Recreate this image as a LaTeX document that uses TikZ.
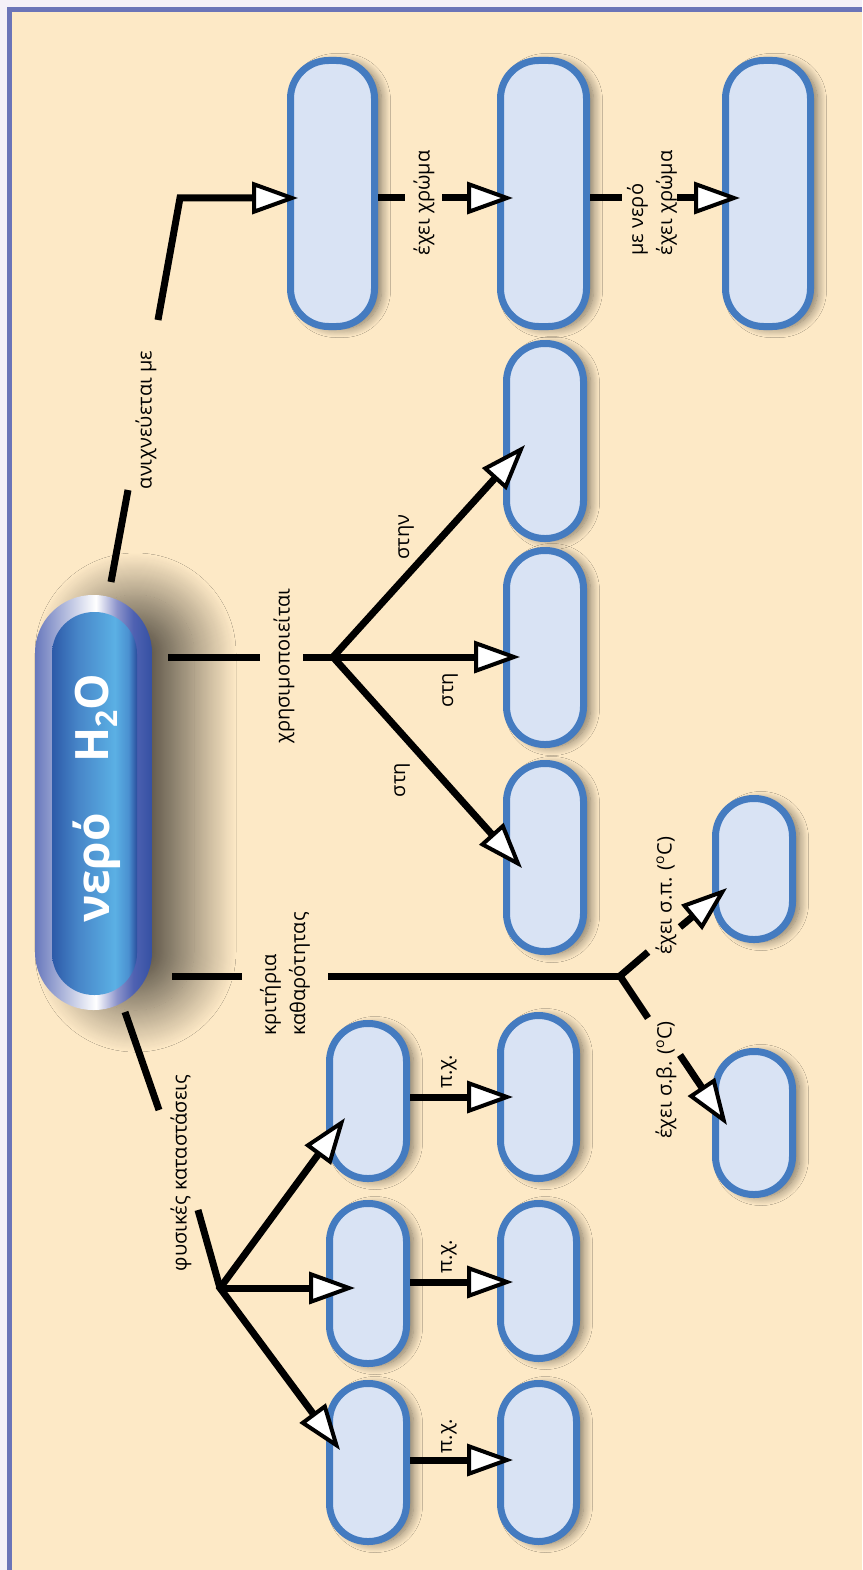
\documentclass[tikz,border=0pt]{standalone}
\usepackage{fontspec}
\setmainfont{Open Sans}
\usetikzlibrary{arrows.meta,shadows.blur,calc}
\definecolor{bg}{HTML}{FDE9C6}
\definecolor{outerbg}{HTML}{F4F0F8}
\definecolor{framec}{HTML}{6B74B8}
\definecolor{boxfill}{HTML}{D9E3F4}
\definecolor{boxline}{HTML}{447BC0}
\definecolor{ringA}{HTML}{6878BC}
\definecolor{ringB}{HTML}{8C93CB}
\definecolor{ringC}{HTML}{4F62B2}
\definecolor{ringD}{HTML}{3550A3}
\definecolor{inA}{HTML}{2D5AA8}
\definecolor{inB}{HTML}{4785C8}
\definecolor{inC}{HTML}{5BB0E4}
\definecolor{inD}{HTML}{4A90D0}
\definecolor{inE}{HTML}{2A4D9D}
\pgfdeclarehorizontalshading{ringshade}{100bp}{color(0bp)=(ringA); color(25bp)=(ringA); color(51bp)=(white); color(60bp)=(ringB); color(67bp)=(ringC); color(75bp)=(ringD); color(100bp)=(ringD)}
\pgfdeclarehorizontalshading{innershade}{100bp}{color(0bp)=(inA); color(25bp)=(inA); color(40bp)=(inB); color(62bp)=(inC); color(70bp)=(inD); color(75bp)=(inE); color(100bp)=(inE)}
\tikzset{
  wtri/.tip={Triangle[length=46pt,width=32pt,line width=4pt,fill=white]},
  pill/.style={draw=boxline, fill=boxfill, line width=7pt, rounded corners=38pt, inner sep=0pt,
    blur shadow={shadow xshift=7pt, shadow yshift=-2pt, shadow blur radius=9pt, shadow blur steps=12, shadow opacity=50}},
  conn/.style={line width=7pt, black},
  arr/.style={conn, -wtri},
  arrboth/.style={conn, wtri-wtri},
  lab/.style={rotate=90, font=\fontsize{20}{29}\selectfont, inner sep=0pt},
  big/.style={rotate=90, text=white, font=\fontsize{46}{46}\selectfont\bfseries, inner sep=0pt}
}
\begin{document}
\begin{tikzpicture}[x=1pt,y=-1pt]
\useasboundingbox (0,0) rectangle (862,1570);
\fill[outerbg] (0,0) rectangle (862,1570);
\fill[bg] (12,12) rectangle (862,1570);
\draw[framec, line width=5pt] (9.5,1570) -- (9.5,9.5) -- (862,9.5);

% main pill
\node[rounded corners=58pt, minimum width=117pt, minimum height=415pt, inner sep=0pt, shading=ringshade,
  blur shadow={shadow xshift=42pt, shadow yshift=0pt, shadow blur radius=42pt, shadow blur steps=40, shadow opacity=60}] (water) at (93.5,802.5) {};
\node[rounded corners=42pt, minimum width=85pt, minimum height=383pt, inner sep=0pt, shading=innershade] (waterin) at (94.5,803.5) {};
\node[big] (tnero) at (97,868) {νερό};
\node[big] (th2o) at (96,718) {H\raisebox{-0.35ex}{\fontsize{30}{30}\selectfont 2}O};

% boxes
\node[pill, minimum width=84pt, minimum height=266pt] (a1) at (332.5,193.5) {};
\node[pill, minimum width=86pt, minimum height=266pt] (a2) at (543.5,193.5) {};
\node[pill, minimum width=85pt, minimum height=266pt] (a3) at (768,193.5) {};
\node[pill, minimum width=77pt, minimum height=195pt] (m1) at (545,441) {};
\node[pill, minimum width=77pt, minimum height=194pt] (m2) at (545,647.5) {};
\node[pill, minimum width=77pt, minimum height=188pt] (m3) at (545,857.5) {};
\node[pill, minimum width=77pt, minimum height=141pt] (s1) at (754,869) {};
\node[pill, minimum width=77pt, minimum height=143pt] (s2) at (754,1123) {};
\node[pill, minimum width=77pt, minimum height=155pt] (p1) at (368,1101) {};
\node[pill, minimum width=77pt, minimum height=160pt] (p2) at (368,1283.5) {};
\node[pill, minimum width=77pt, minimum height=158pt] (p3) at (368,1462.5) {};
\node[pill, minimum width=76pt, minimum height=163pt] (q1) at (538.5,1097) {};
\node[pill, minimum width=76pt, minimum height=155pt] (q2) at (538.5,1281) {};
\node[pill, minimum width=76pt, minimum height=158pt] (q3) at (538.5,1462.5) {};

% ανιχνεύεται με
\coordinate (w1) at (111,582);
\coordinate (w2) at (128,490);
\coordinate (w3) at (158,320);
\coordinate (w4) at (180,198);
\coordinate (ta1) at (298,198);
\draw[conn] (w1) -- (w2);
\draw[arr] (w3) -- (w4) -- (ta1);
\node[lab] (lan) at (146,420) {ανιχνεύεται με};

% a1 -> a2 -> a3
\coordinate (e1) at (405,198);
\coordinate (e2) at (442,198);
\coordinate (ta2) at (513,198);
\draw[conn] (a1.east |- e1) -- (e1);
\draw[arr] (e2) -- (ta2);
\node[lab] (lx1) at (424,203) {έχει χρώμα};
\coordinate (g1) at (622,198);
\coordinate (g2) at (677,198);
\coordinate (ta3) at (740,198);
\draw[conn] (a2.east |- g1) -- (g1);
\draw[arr] (g2) -- (ta3);
\node[lab, align=left] (lx2) at (652,203) {με νερό\\έχει χρώμα};

% χρησιμοποιείται
\coordinate (u1) at (168,657);
\coordinate (u2) at (260,657);
\coordinate (u3) at (303,657);
\coordinate (J1) at (333,657);
\coordinate (tm1) at (525,445);
\coordinate (tm2) at (520,657);
\coordinate (tm3) at (522,868);
\draw[conn] (u1) -- (u2);
\draw[conn] (u3) -- (J1);
\draw[arrboth] (tm1) -- (J1) -- (tm3);
\draw[arr] (J1) -- (tm2);
\node[lab] (lxr) at (284,666) {χρησιμοποιείται};
\node[lab] (lst1) at (406,537) {στην};
\node[lab] (lst2) at (450,690) {στη};
\node[lab] (lst3) at (402,780) {στη};

% κριτήρια καθαρότητας
\coordinate (k1) at (172,976);
\coordinate (k2) at (242,976);
\coordinate (k3) at (328,976);
\coordinate (J2) at (620,976);
\coordinate (k4) at (648,952);
\coordinate (k5) at (680,927);
\coordinate (ts1) at (727,888);
\coordinate (k6) at (648,1018);
\coordinate (k7) at (680,1055);
\coordinate (ts2) at (727,1125);
\draw[conn] (k1) -- (k2);
\draw[conn] (k3) -- (J2);
\draw[conn] (k4) -- (J2) -- (k6);
\draw[arr] (k5) -- (ts1);
\draw[arr] (k7) -- (ts2);
\node[lab, align=left] (lkr) at (285,974) {κριτήρια\\καθαρότητας};
\node[lab] (lsp) at (666,896) {έχει σ.π. (\textsuperscript{o}C)};
\node[lab] (lsb) at (666,1080) {έχει σ.β. (\textsuperscript{o}C)};

% φυσικές καταστάσεις
\coordinate (f1) at (125,1012);
\coordinate (f2) at (159,1110);
\coordinate (f3) at (198,1210);
\coordinate (J3) at (220,1288);
\coordinate (tp1) at (345,1118);
\coordinate (tp2) at (355,1288);
\coordinate (tp3) at (340,1450);
\draw[conn] (f1) -- (f2);
\draw[conn] (f3) -- (J3);
\draw[arrboth] (tp1) -- (J3) -- (tp3);
\draw[arr] (J3) -- (tp2);
\node[lab] (lfk) at (181,1173) {φυσικές καταστάσεις};

% π.χ.
\coordinate (tq1) at (513,1097);
\coordinate (tq2) at (513,1282);
\coordinate (tq3) at (513,1460);
\draw[arr] (p1.east |- tq1) -- (tq1);
\draw[arr] (p2.east |- tq2) -- (tq2);
\draw[arr] (p3.east |- tq3) -- (tq3);
\node[lab] (lpx1) at (449,1072) {π.χ.};
\node[lab] (lpx2) at (449,1257) {π.χ.};
\node[lab] (lpx3) at (449,1436) {π.χ.};
\end{tikzpicture}
\end{document}
